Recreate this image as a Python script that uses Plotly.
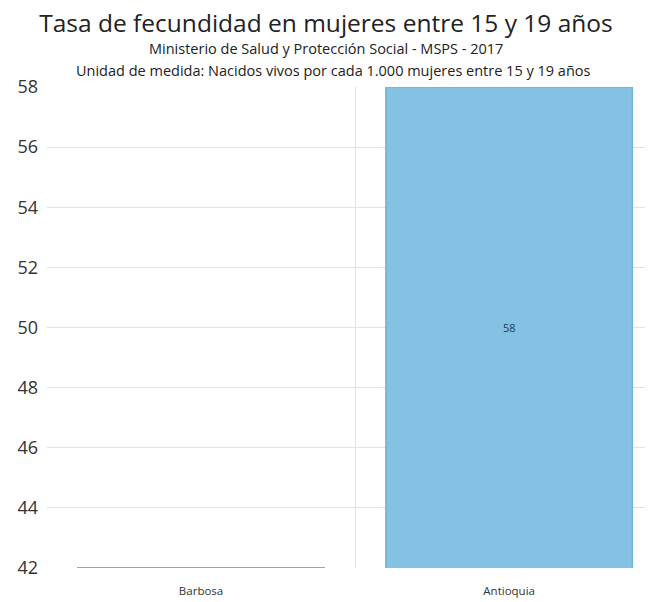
import plotly.graph_objects as go

categories = ["Barbosa", "Antioquia"]
values = [42, 58]
bar_labels = ["", "58"]
y_ticks = [42, 44, 46, 48, 50, 52, 54, 56, 58]
y_range = [42, 58]

fig = go.Figure()
fig.add_trace(go.Bar(
    x=categories,
    y=values,
    marker=dict(color=["#85C1E2", "#85C1E2"],
                line=dict(color=["#6A8CA8", "#70B3DC"], width=1.5)),
    width=0.8,
    hoverinfo="x+y",
))

# value label centred in the visible part of the bar
for c, v, lab in zip(categories, values, bar_labels):
    if lab:
        fig.add_annotation(x=c, y=(y_range[0] + min(v, y_range[1])) / 2,
                           text=lab, showarrow=False, xref="x", yref="y",
                           font=dict(size=11, color="#1F3B5A"))

fig.update_layout(
    width=645, height=594,
    paper_bgcolor="white", plot_bgcolor="white",
    margin=dict(l=39, r=0, t=79, b=34),
    showlegend=False,
    font=dict(family="Open Sans", color="#333333"),
    title=dict(
        text="Tasa de fecundidad en mujeres entre 15 y 19 años",
        x=(326 - 8) / 645, xanchor="center", y=1 - 15 / 594, yanchor="middle",
        xref="container",
        font=dict(size=24.5, color="#222222", family="Open Sans"),
    ),
    xaxis=dict(
        type="category",
        range=[-0.5, 1.467],
        tickson="boundaries",
        showgrid=True, gridcolor="#E3E3E3", gridwidth=1,
        ticks="", showline=False,
        ticklabelstandoff=14,
        tickfont=dict(size=11.5, color="#333333"),
    ),
    yaxis=dict(
        range=y_range,
        tickvals=y_ticks,
        showgrid=True, gridcolor="#E3E3E3", gridwidth=1,
        zeroline=False, showline=False,
        ticklabelstandoff=8,
        tickfont=dict(size=18, color="#333333"),
        ticks="",
    ),
)

fig.add_annotation(text="Ministerio de Salud y Protección Social - MSPS - 2017",
                   xref="paper", yref="paper", x=(326 - 47) / 606, y=1.0,
                   yanchor="middle", yshift=39, showarrow=False,
                   font=dict(size=14.5, color="#222222"))
fig.add_annotation(text="Unidad de medida: Nacidos vivos por cada 1.000 mujeres entre 15 y 19 años",
                   xref="paper", yref="paper", x=(333 - 47) / 606, y=1.0,
                   yanchor="middle", yshift=17, showarrow=False,
                   font=dict(size=14.5, color="#222222"))

fig.write_html("out.html")
